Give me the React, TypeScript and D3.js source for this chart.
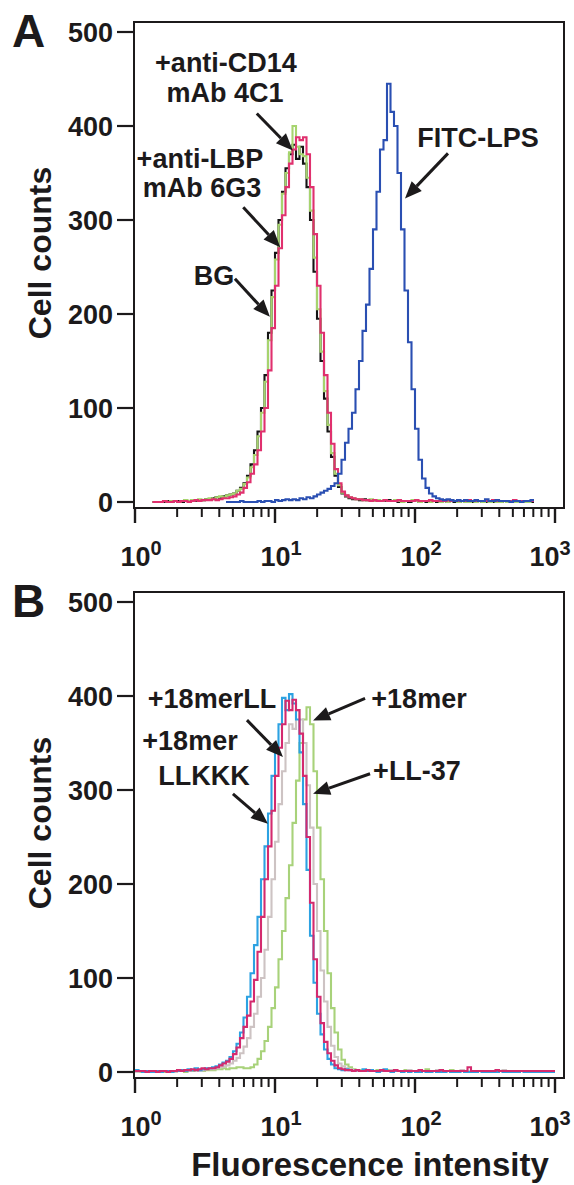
import React from 'react';
import * as d3 from 'd3';

// ---------- data ----------
const BINS_PER_DECADE = 40; // histogram channels per decade of fluorescence
const X_TICK_EXPONENTS = [0, 1, 2, 3];
const Y_TICKS = [0, 100, 200, 300, 400, 500];

// Panel A (start = first channel index)
const A_BG_START = 5;
const A_BG = [
  0, 0, 0, 0, 1, 0, 1, 1, 0, 1, 1, 2, 1, 2, 2, 3,
  3, 4, 5, 4, 6, 7, 8, 9, 12, 15,
  20, 28, 40, 55, 75, 100, 135, 180, 225, 265,
  300, 330, 355, 370, 380, 365, 378, 360, 335, 300,
  245, 195, 150, 110, 75, 48, 28, 16, 9, 6,
  4, 3, 3, 2, 3, 2, 2, 1, 2, 1,
  1, 2, 1, 1, 0, 1, 1, 0, 1, 1,
  0, 1, 0, 1, 1, 0, 0, 1, 0, 1,
  0, 0, 1, 0, 1, 0, 0, 1, 0, 0,
  1, 0, 0, 0, 1, 0, 0, 0, 1, 0, 0, 0, 0,
];
const A_LBP_START = 5;
const A_LBP = [
  0, 0, 0, 1, 0, 1, 1, 0, 1, 2, 1, 2, 2, 3, 2, 3,
  4, 3, 5, 6, 5, 7, 8, 9, 12, 14,
  19, 26, 37, 50, 70, 95, 128, 172, 218, 258,
  295, 328, 350, 372, 400, 378, 370, 368, 345, 310,
  260, 205, 160, 118, 82, 52, 30, 18, 10, 7,
  5, 4, 3, 3, 2, 2, 3, 1, 2, 1,
  2, 1, 1, 2, 1, 0, 1, 1, 2, 1,
  0, 1, 1, 0, 1, 1, 0, 1, 0, 1,
  1, 0, 1, 0, 0, 1, 0, 1, 0, 1,
  0, 1, 0, 0, 1, 0, 1, 0, 0, 1, 0, 0, 1,
];
const A_CD14_START = 5;
const A_CD14 = [
  0, 0, 0, 1, 0, 0, 1, 0, 1, 1, 0, 1, 2, 1, 2, 2,
  2, 3, 2, 3, 4, 4, 5, 6, 8, 10,
  15, 21, 30, 40, 55, 75, 100, 140, 185, 230,
  270, 305, 335, 360, 375, 388, 385, 388, 370, 335,
  285, 230, 180, 135, 95, 62, 35, 20, 11, 7,
  5, 4, 3, 3, 2, 2, 1, 2, 1, 1,
  2, 1, 1, 1, 2, 1, 1, 1, 1, 2,
  1, 1, 1, 2, 1, 1, 1, 1, 2, 1,
  1, 1, 1, 1, 2, 1, 1, 1, 1, 1,
  1, 2, 1, 1, 1, 1, 1, 2, 1, 1, 1, 1, 1,
];
const A_LPS_START = 26;
const A_LPS = [
  0, 0, 0, 0, 1, 0, 0, 0, 0, 1,
  0, 1, 1, 0, 2, 1, 2, 3, 2,
  3, 2, 4, 3, 5, 4, 6, 8, 10, 12,
  14, 17, 20, 30, 45, 63, 78, 95, 120, 150,
  182, 210, 248, 290, 330, 375, 385, 445, 415, 400,
  350, 290, 225, 170, 120, 78, 45, 25, 15, 9,
  6, 4, 3, 2, 3, 2, 1, 2, 1, 2,
  1, 1, 2, 1, 1, 3, 1, 1, 2, 1,
  1, 1, 0, 1, 1, 0, 1, 1, 2,
];

// Panel B
const B_18MERLL_START = 0;
const B_18MERLL = [
  2, 1, 0, 1, 0, 0, 1, 0, 1, 1,
  0, 1, 1, 2, 1, 3, 2, 4, 2, 3, 4,
  4, 5, 6, 8, 10, 12, 16, 22, 30, 42,
  58, 80, 105, 135, 165, 205, 240, 275, 315, 345,
  370, 398, 385, 402, 392, 375, 340, 285, 215, 145,
  95, 62, 40, 24, 14, 8, 4, 3, 2, 3,
  2, 1, 2, 1, 3, 1, 2, 1, 0, 1,
  3, 1, 0, 1, 1, 0, 1, 0, 1, 0,
  0, 1, 0, 0, 1, 0, 0, 0, 1, 0,
  0, 0, 1, 0, 0, 0, 0, 1, 0, 0,
  0, 0, 0, 1, 0, 0, 0, 0, 0, 1,
  0, 0, 0, 0, 0, 0, 0, 0, 0,
];
const B_LLKKK_START = 0;
const B_LLKKK = [
  1, 1, 1, 0, 1, 1, 0, 1, 1, 0,
  1, 1, 2, 1, 2, 2, 3, 2, 3, 4, 3,
  4, 4, 5, 7, 9, 11, 14, 19, 26, 36,
  48, 60, 75, 98, 128, 165, 205, 240, 278, 315,
  345, 370, 395, 385, 396, 385, 360, 315, 250, 180,
  120, 80, 52, 32, 20, 12, 7, 4, 3, 2,
  2, 1, 2, 1, 1, 2, 1, 1, 1, 2,
  1, 1, 1, 2, 1, 1, 1, 1, 1, 1,
  2, 1, 1, 1, 1, 1, 2, 1, 1, 1,
  1, 1, 1, 1, 5, 1, 1, 1, 1, 1,
  1, 1, 2, 1, 1, 1, 1, 1, 1, 1,
  1, 1, 1, 1, 1, 1, 1, 1, 1,
];
const B_LL37_START = 0;
const B_LL37 = [
  0, 1, 0, 1, 1, 0, 1, 0, 1, 1,
  1, 0, 1, 2, 1, 1, 2, 2, 1, 2, 3,
  3, 3, 4, 5, 6, 7, 9, 12, 15, 20,
  27, 36, 48, 62, 80, 100, 130, 165, 205, 245,
  285, 320, 350, 370, 365, 385, 375, 350, 305, 260,
  200, 150, 108, 75, 48, 28, 16, 9, 6, 4,
  3, 2, 2, 1, 2, 1, 1, 1, 1, 2,
  1, 1, 2, 1, 1, 1, 1, 2, 1, 1,
  1, 1, 1, 1, 1, 2, 1, 1, 1, 1,
  1, 1, 2, 1, 1, 1, 1, 1, 1, 1,
  1, 1, 1, 1, 2, 1, 1, 1, 1, 1,
  1, 1, 1, 1, 1, 1, 1, 1, 1,
];
const B_18MER_START = 0;
const B_18MER = [
  0, 0, 1, 0, 0, 1, 0, 1, 0, 1,
  1, 0, 1, 1, 0, 1, 1, 2, 1, 1, 2,
  2, 2, 3, 3, 4, 3, 4, 4, 5, 5,
  4, 4, 5, 8, 14, 22, 33, 48, 68, 90,
  120, 150, 185, 220, 265, 310, 350, 375, 388, 370,
  320, 260, 205, 150, 105, 68, 42, 24, 13, 8,
  5, 3, 2, 2, 1, 2, 1, 1, 2, 1,
  1, 2, 1, 1, 1, 1, 2, 1, 1, 1,
  1, 1, 3, 1, 1, 1, 1, 1, 1, 2,
  1, 1, 1, 1, 1, 1, 1, 1, 1, 1,
  1, 1, 1, 1, 1, 1, 1, 1, 1, 1,
  1, 1, 1, 1, 1, 1, 1, 1, 1,
];

// ---------- layout / style ----------
const W = 574;
const H = 1185;
const FONT = '"Liberation Sans", Arial, Helvetica, sans-serif';
const INK = '#1c1a1b';

type Series = { start: number; counts: number[]; color: string };
type Arrow = { x: number; y: number; dx: number; dy: number };
type Label = { text: string; x: number; y: number };

const panels = [
  {
    letter: 'A',
    top: 22,
    series: [
      { start: A_BG_START, counts: A_BG, color: '#141414' },
      { start: A_LBP_START, counts: A_LBP, color: '#a6d46e' },
      { start: A_CD14_START, counts: A_CD14, color: '#e0306e' },
      { start: A_LPS_START, counts: A_LPS, color: '#2a4fb2' },
    ] as Series[],
    arrows: [
      { x: 13.4, y: 374, dx: -36, dy: -37 },
      { x: 10.9, y: 271, dx: -37, dy: -40 },
      { x: 9.2, y: 197, dx: -35, dy: -38 },
      { x: 84.8, y: 323, dx: 43, dy: -45 },
    ] as Arrow[],
    labels: [
      { text: '+anti-CD14', x: 226, y: 50 },
      { text: 'mAb 4C1', x: 225, y: 80 },
      { text: '+anti-LBP', x: 200, y: 146 },
      { text: 'mAb 6G3', x: 202, y: 175 },
      { text: 'BG', x: 214, y: 263 },
      { text: 'FITC-LPS', x: 478, y: 125 },
    ] as Label[],
  },
  {
    letter: 'B',
    top: 592,
    series: [
      { start: B_18MER_START, counts: B_18MER, color: '#a8d27a' },
      { start: B_LL37_START, counts: B_LL37, color: '#cdc3c3' },
      { start: B_18MERLL_START, counts: B_18MERLL, color: '#2ca2e2' },
      { start: B_LLKKK_START, counts: B_LLKKK, color: '#d42a6e' },
    ] as Series[],
    arrows: [
      { x: 11.4, y: 335, dx: -36, dy: -37 },
      { x: 8.9, y: 264, dx: -35, dy: -30 },
      { x: 18.7, y: 374, dx: 52, dy: -22 },
      { x: 18.7, y: 296, dx: 57, dy: -20 },
    ] as Arrow[],
    labels: [
      { text: '+18merLL', x: 212, y: 116 },
      { text: '+18mer', x: 190, y: 158 },
      { text: 'LLKKK', x: 204, y: 193 },
      { text: '+18mer', x: 419, y: 116 },
      { text: '+LL-37', x: 417, y: 188 },
    ] as Label[],
  },
];

const x = d3.scaleLog().domain([1, 1000]).range([135, 555]);

function Panel({ p }: { p: (typeof panels)[number] }) {
  const top = p.top;
  const y = d3.scaleLinear().domain([0, 500]).range([top + 480, top + 10]);
  const boxL = 134;
  const boxR = 564;
  const boxB = top + 486;
  const line = d3
    .line<[number, number]>()
    .x((d) => x(d[0]))
    .y((d) => y(d[1]))
    .curve(d3.curveStepAfter);

  const paths = p.series.map((s) => {
    const pts: [number, number][] = s.counts.map((c, k) => [
      Math.pow(10, (s.start + k) / BINS_PER_DECADE),
      c,
    ]);
    const last = s.counts.length - 1;
    pts.push([Math.pow(10, (s.start + last + 1) / BINS_PER_DECADE), s.counts[last]]);
    return line(pts) || '';
  });

  const minor: number[] = [];
  for (let e = 0; e < 3; e++) for (let m = 2; m <= 9; m++) minor.push(m * Math.pow(10, e));

  return (
    <g>
      <text x={12} y={top + 25} fontFamily={FONT} fontWeight="bold" fontSize={46} fill={INK}>
        {p.letter}
      </text>
      <text
        transform={`translate(51, ${top + 231}) rotate(-90)`}
        textAnchor="middle"
        fontFamily={FONT}
        fontWeight="bold"
        fontSize={32}
        fill={INK}
      >
        Cell counts
      </text>
      {/* data */}
      {paths.map((d, i) => (
        <path key={i} d={d} fill="none" stroke={p.series[i].color} strokeWidth={2.1} strokeLinejoin="miter" />
      ))}
      {/* box */}
      <rect x={boxL} y={top} width={boxR - boxL} height={boxB - top} fill="none" stroke={INK} strokeWidth={2} />
      {/* y ticks */}
      {Y_TICKS.map((t) => (
        <g key={t}>
          <line x1={117} x2={boxL} y1={y(t)} y2={y(t)} stroke={INK} strokeWidth={2.2} />
          <text
            x={113}
            y={y(t) + 9.5}
            textAnchor="end"
            fontFamily={FONT}
            fontWeight="bold"
            fontSize={27}
            fill={INK}
          >
            {t}
          </text>
        </g>
      ))}
      {/* x ticks */}
      {minor.map((v) => (
        <line key={v} x1={x(v)} x2={x(v)} y1={boxB} y2={boxB + 9} stroke={INK} strokeWidth={2} />
      ))}
      {X_TICK_EXPONENTS.map((e) => (
        <g key={e}>
          <line x1={x(Math.pow(10, e))} x2={x(Math.pow(10, e))} y1={boxB} y2={boxB + 15} stroke={INK} strokeWidth={2.4} />
          <text
            x={Math.min(x(Math.pow(10, e)) + 6, W - 24)}
            y={top + 544}
            textAnchor="middle"
            fontFamily={FONT}
            fontWeight="bold"
            fontSize={27}
            fill={INK}
          >
            <tspan>10</tspan>
            <tspan dy={-11} fontSize={20}>
              {e}
            </tspan>
          </text>
        </g>
      ))}
      {/* annotations */}
      {p.labels.map((l, i) => (
        <text
          key={i}
          x={l.x}
          y={top + l.y}
          textAnchor="middle"
          fontFamily={FONT}
          fontWeight="bold"
          fontSize={27}
          fill={INK}
        >
          {l.text}
        </text>
      ))}
      {p.arrows.map((a, i) => {
        const tx = x(a.x);
        const ty = y(a.y);
        const sx = tx + a.dx;
        const sy = ty + a.dy;
        const ang = Math.atan2(ty - sy, tx - sx);
        const len = 17;
        const hw = 7;
        const bx = tx - len * Math.cos(ang);
        const by = ty - len * Math.sin(ang);
        const px = -Math.sin(ang) * hw;
        const py = Math.cos(ang) * hw;
        return (
          <g key={i}>
            <line x1={sx} y1={sy} x2={bx} y2={by} stroke={INK} strokeWidth={3} />
            <path d={`M${tx},${ty} L${bx + px},${by + py} L${bx - px},${by - py} Z`} fill={INK} />
          </g>
        );
      })}
    </g>
  );
}

export default function App() {
  return (
    <svg
      width={W}
      height={H}
      viewBox={`0 0 ${W} ${H}`}
      style={{ position: 'absolute', left: 0, top: 0, background: '#fff' }}
    >
      <rect width={W} height={H} fill="#fff" />
      {panels.map((p) => (
        <Panel key={p.letter} p={p} />
      ))}
      <text
        x={370}
        y={1176}
        textAnchor="middle"
        fontFamily={FONT}
        fontWeight="bold"
        fontSize={33}
        fill={INK}
      >
        Fluorescence intensity
      </text>
    </svg>
  );
}
